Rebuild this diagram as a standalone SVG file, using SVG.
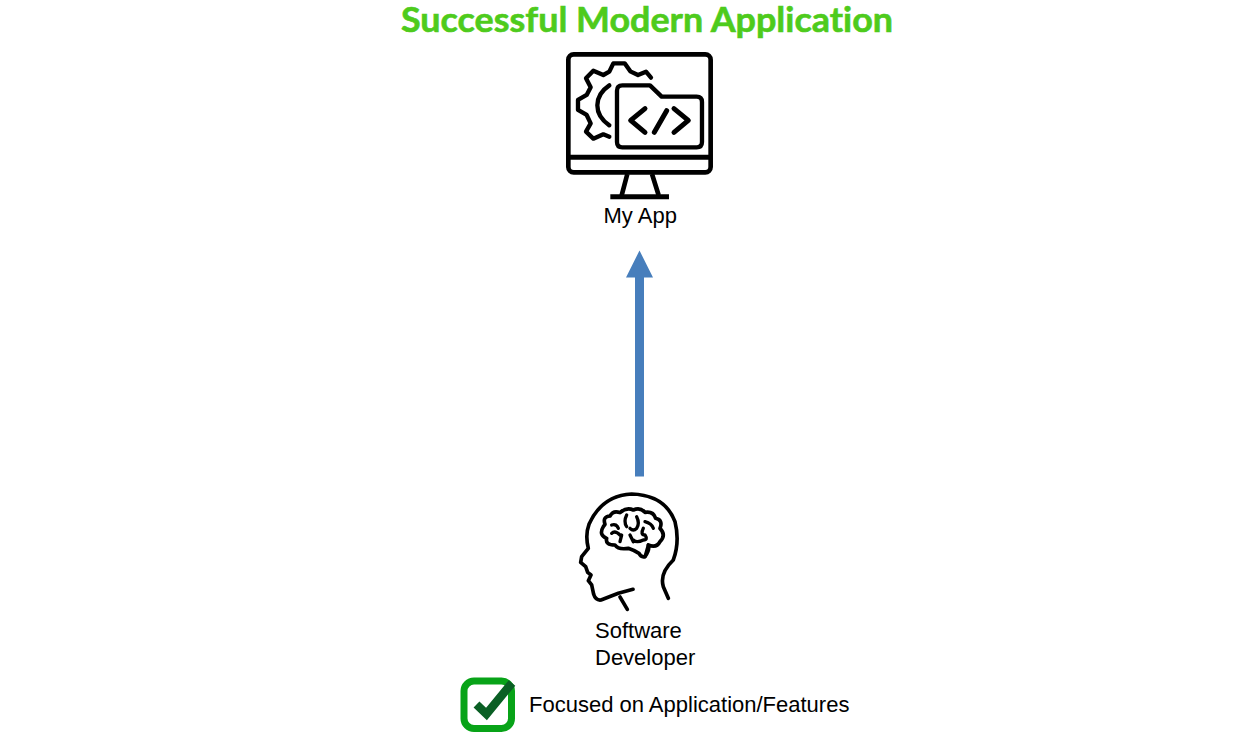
<svg xmlns="http://www.w3.org/2000/svg" width="1243" height="734" viewBox="0 0 1243 734">
  <style>
    .label { font-family: "Liberation Sans", Arial, sans-serif; font-size: 22px; fill: #000; }
    .title { font-family: Lato, "Open Sans", sans-serif; font-weight: 700; font-size: 34px; fill: #4ecb1c; stroke: #4ecb1c; stroke-width: .6px; font-variant-ligatures: none; }
    .icon { fill: none; stroke: #000; stroke-linecap: round; stroke-linejoin: round; }
  </style>
  <rect width="1243" height="734" fill="#fff"/>
  <text id="title" class="title" x="401" y="32" textLength="492" lengthAdjust="spacingAndGlyphs">Successful Modern Application</text>

  <g id="my-app">
    <!-- icon paths authored at 3x, scaled down to page units -->
    <g class="icon" transform="translate(550 40) scale(.3333)">
      <rect x="55" y="43" width="427" height="354" rx="16" stroke-width="14"/>
      <path d="M55 352H482" stroke-width="15" stroke-linecap="butt"/>
      <path d="M232 402L215 466M306 402L326 466" stroke-width="14" stroke-linecap="butt"/>
      <path d="M181 470H357" stroke-width="15" stroke-linecap="butt"/>
      <path d="M303 113L288 95L264 105L241 94L224 70H190L178 95L160 105L130 92L108 115L122 142L110 165L84 180V210L110 225L122 250L108 275L130 296L160 283L178 290" stroke-width="13"/>
      <path d="M178 136Q142 160 142 196Q142 232 178 256" stroke-width="13"/>
      <path d="M201 152Q201 136 217 136H300L335 170H440Q456 170 456 186V306Q456 322 440 322H217Q201 322 201 306Z" stroke-width="13"/>
      <path d="M285 206L242 241L285 277M372 206L415 241L372 277" stroke-width="15"/>
      <path d="M350 212L313 277" stroke-width="15"/>
    </g>
    <text class="label" x="603.500" y="223">My App</text>
  </g>

  <g id="connectors">
    <path d="M639.500 476.500V276" fill="none" stroke="#477ebc" stroke-width="9"/>
    <path d="M639.500 250.500L653 277.500H626Z" fill="#477ebc"/>
  </g>

  <g id="software-developer">
    <g class="icon" transform="translate(565 485) scale(.3333)">
      <path d="M204 313L160 325L108 345Q92 347 86 328L80 300L70 287L78 270L68 262L62 245L47 232L50 215L70 190Q60 150 72 118Q110 32 200 27Q300 30 330 110Q345 170 325 225Q283 265 295 305L310 340" stroke-width="11"/>
      <path d="M165 336L187 373" stroke-width="11"/>
      <path d="M120 118Q112 95 135 93Q145 75 165 83Q185 65 205 75Q225 65 240 82Q265 78 272 100Q295 105 285 130Q305 150 285 170Q275 190 250 180Q255 195 240 215Q228 218 222 205Q205 195 190 190Q160 195 150 180Q120 180 125 160Q100 150 115 125Z" stroke-width="11"/>
      <path d="M140 120Q155 115 160 130M185 90Q175 110 185 125M215 95Q225 115 215 130Q205 140 195 130M240 110Q260 115 265 130M165 150Q150 135 140 145M170 150L165 170M235 130Q225 150 240 150Q250 165 235 165Q215 175 205 165M195 150L205 170M250 180L240 215" stroke-width="10"/>
    </g>
    <text class="label" x="595" y="638">Software</text>
    <text class="label" x="595" y="665">Developer</text>
  </g>

  <g id="focus-note">
    <rect x="464" y="681" width="47.500" height="47.500" rx="10" fill="none" stroke="#08a318" stroke-width="7"/>
    <path d="M476.500 704.500L486.500 714L512 683" fill="none" stroke="#0a5f24" stroke-width="8.500"/>
    <text class="label" x="529" y="712">Focused on Application/Features</text>
  </g>
</svg>
